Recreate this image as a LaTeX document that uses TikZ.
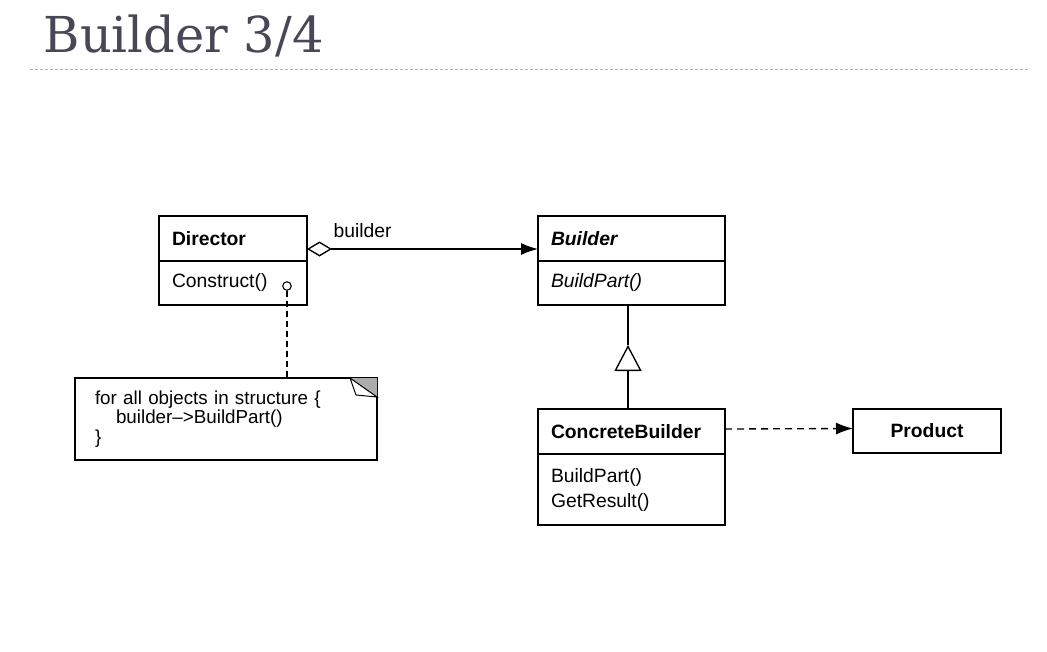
\documentclass[tikz,border=0pt]{standalone}
\usepackage{fontspec}
\setmainfont{Liberation Sans}
\newfontfamily\titlefont{DejaVu Serif}
\usetikzlibrary{arrows.meta}
\definecolor{titlegray}{HTML}{474755}
\definecolor{rulegray}{HTML}{A8B6C4}
\newcommand\umlsize{\fontsize{19.3}{25}\selectfont}

\begin{document}
\begin{tikzpicture}[x=1pt, y=-1pt, line width=1.35pt,
   classbox/.style={draw=black, anchor=north west, inner xsep=13pt, inner ysep=0pt,
                    outer sep=0pt, align=left, font=\umlsize},
   classname/.style={classbox, minimum height=45pt, font=\umlsize\bfseries},
   dashline/.style={dash pattern=on 6pt off 4pt}]

   \useasboundingbox (0,0) rectangle (1047,651);
   \fill[white] (0,0) rectangle (1047,651);

   \node[anchor=base west, inner sep=0pt, text=titlegray,
         font=\titlefont\fontsize{49.5}{58}\selectfont] (title) at (43,52) {Builder 3/4};
   \draw[rulegray, line width=0.8pt, dash pattern=on 3pt off 2pt] (30,69) -- (1030,69);

   \node[classname, text width=122pt] (director) at (159,216) {Director};
   \node[classbox, text width=122pt, minimum height=44pt] (directorops) at (director.south west) {Construct()};

   \node[classname, text width=161pt, font=\umlsize\bfseries\itshape] (builder) at (538,216) {Builder};
   \node[classbox, text width=161pt, minimum height=44pt, font=\umlsize\itshape] (builderops) at (builder.south west) {BuildPart()};

   \node[classname, text width=161pt] (concrete) at (538,409) {ConcreteBuilder};
   \node[classbox, text width=161pt, minimum height=71pt] (concreteops) at (concrete.south west) {BuildPart()\\GetResult()};

   \node[draw, anchor=north west, outer sep=0pt, minimum width=148pt, minimum height=44pt,
         font=\umlsize\bfseries] (product) at (853,409) {Product};

   \node[draw, anchor=north west, text width=262pt, inner xsep=20pt, inner ysep=0pt, outer sep=0pt,
         minimum height=82pt, align=left, font=\fontsize{18.8}{19.5}\selectfont] (note) at (75,378)
         {for all objects in structure \{\\\hspace*{21pt}builder–>BuildPart()\\\}};
   \fill[gray!65] (note.north east) -- ++(-27,0) -- ++(27,19) -- cycle;
   \draw[line width=1pt] (note.north east) ++(-27,0) -- ++(6,17) -- ++(21,2) -- cycle;

   \node[circle, draw, minimum size=8.5pt, inner sep=0pt, line width=1.1pt] (knob) at (287,286) {};
   \draw[dashline] (knob.south) -- (knob.south |- note.north);

   \draw[{Diamond[open,length=25pt,width=15pt]}-{Latex[length=17pt,width=12pt]}]
      ([yshift=-10.5pt]director.east) -- ([yshift=-10.5pt]builder.west)
      node[at start, anchor=base west, inner sep=0pt, xshift=26pt, yshift=12pt, font=\umlsize] {builder};

   \coordinate (inhtip) at (628,345);
   \draw[-{Triangle[open,length=26pt,width=27pt]}] (inhtip |- concrete.north) -- (inhtip);
   \draw (inhtip) -- (inhtip |- builderops.south);

   \draw[dash pattern=on 7pt off 5pt, -{Latex[length=17pt,width=12pt]}]
      ([yshift=2.5pt]concrete.east) -- ([yshift=2.5pt]product.west);

\end{tikzpicture}
\end{document}
